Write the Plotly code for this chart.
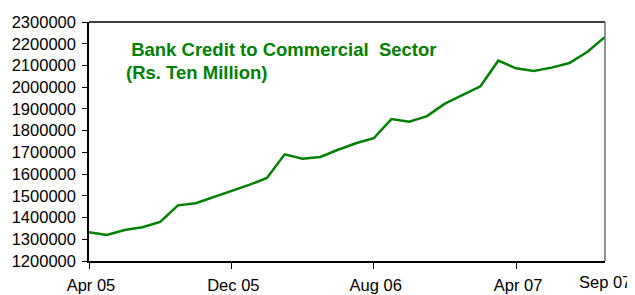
import plotly.graph_objects as go

months = ["Apr 05", "May 05", "Jun 05", "Jul 05", "Aug 05", "Sep 05", "Oct 05", "Nov 05",
          "Dec 05", "Jan 06", "Feb 06", "Mar 06", "Apr 06", "May 06", "Jun 06", "Jul 06",
          "Aug 06", "Sep 06", "Oct 06", "Nov 06", "Dec 06", "Jan 07", "Feb 07", "Mar 07",
          "Apr 07", "May 07", "Jun 07", "Jul 07", "Aug 07", "Sep 07"]
credit = [1332000, 1320000, 1343000, 1355000, 1380000, 1456000, 1466000, 1493000,
          1522000, 1550000, 1582000, 1691000, 1671000, 1679000, 1712000, 1742000,
          1765000, 1853000, 1841000, 1867000, 1924000, 1964000, 2004000, 2122000,
          2087000, 2074000, 2090000, 2111000, 2162000, 2231000]
xtick_labels = ["Apr 05", "Dec 05", "Aug 06", "Apr 07"]
last_label = "Sep 07"
ytick_vals = list(range(1200000, 2300001, 100000))

FONT = "Liberation Sans, Arial, sans-serif"
GREEN = "#008000"
TICK = 16.5

fig = go.Figure()
fig.add_trace(go.Scatter(x=months, y=credit, mode="lines",
                         line=dict(color=GREEN, width=2.5), hoverinfo="skip"))

# page body has an 8px margin, so the figure is sized to the remaining window
fig.update_layout(
    width=627, height=287,
    margin=dict(l=81, r=30, t=14, b=34),
    paper_bgcolor="white", plot_bgcolor="white",
    showlegend=False,
    font=dict(family=FONT, size=TICK, color="black"),
    xaxis=dict(type="category", categoryorder="array", categoryarray=months,
               range=[0, len(months) - 1], tickmode="array",
               tickvals=xtick_labels, ticktext=xtick_labels,
               showline=True, linecolor="black", linewidth=1.5, mirror=False,
               ticks="outside", ticklen=6, tickcolor="black", showgrid=False,
               zeroline=False, tickfont=dict(size=TICK), ticklabelstandoff=2,
               ticklabelshift=2, automargin=False),
    yaxis=dict(range=[1200000, 2300000], tickvals=ytick_vals,
               ticktext=[str(v) for v in ytick_vals],
               showline=True, linecolor="black", linewidth=1.5,
               ticks="outside", ticklen=5, tickcolor="black", showgrid=False,
               zeroline=False, tickfont=dict(size=TICK), ticklabelstandoff=3,
               automargin=False),
)
# top and right border
fig.add_shape(type="line", xref="x domain", yref="y domain", x0=0, x1=1, y0=1, y1=1,
              line=dict(color="black", width=1.5))
fig.add_shape(type="line", xref="x domain", yref="y domain", x0=1, x1=1, y0=0, y1=1,
              line=dict(color="#707070", width=1.5))

fig.add_annotation(xref="paper", x=1, xanchor="center", y=0, yref="paper",
                   yanchor="middle", yshift=-21, text=last_label, showarrow=False,
                   font=dict(size=TICK, family=FONT))
fig.add_annotation(xref="paper", yref="paper", x=0.068, y=0.887, xanchor="left",
                   yanchor="middle",
                   text="<b> Bank Credit to Commercial  Sector</b>", showarrow=False,
                   font=dict(size=18.5, color=GREEN, family=FONT))
fig.add_annotation(xref="paper", yref="paper", x=0.068, y=0.787, xanchor="left",
                   yanchor="middle",
                   text="<b>(Rs. Ten Million)</b>", showarrow=False,
                   font=dict(size=18.5, color=GREEN, family=FONT))

fig.write_html("out.html")
